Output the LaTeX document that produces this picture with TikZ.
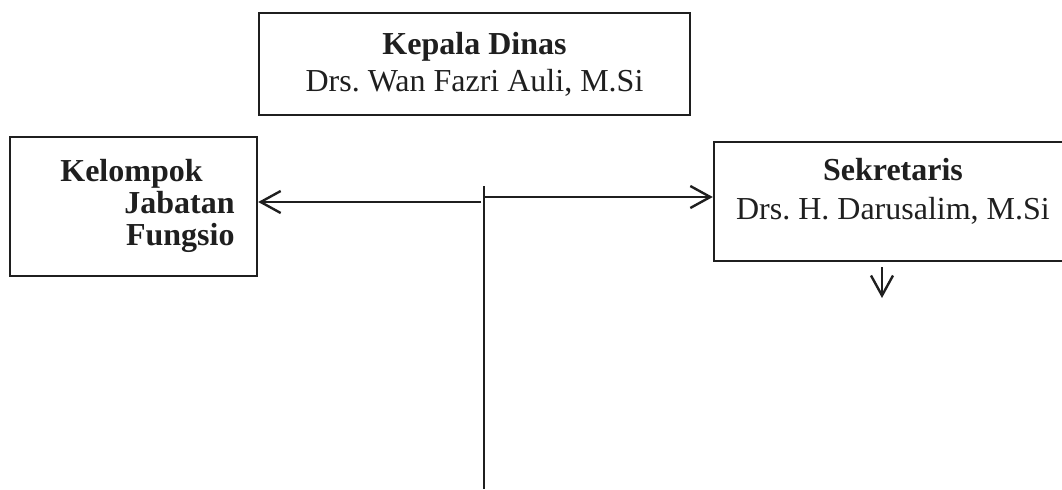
\documentclass[tikz,border=0pt]{standalone}
\usepackage{fontspec}
\setmainfont{Liberation Serif}
\usepackage{tikz}
\usetikzlibrary{arrows.meta}
\frenchspacing
\tikzset{
  % --- kotak bagan -----------------------------------------------------------
  kotak/.style={rectangle,draw=black!88,line width=1.2pt,inner sep=0pt},
  teks/.style={inner sep=0pt,text=black!88},
  % --- garis penghubung -------------------------------------------------------
  garis/.style={draw=black!88,line width=1.2pt},
  panah/.style={garis,-{Straight Barb[length=10pt,width=11pt,line width=1.2pt]}},
}
\begin{document}
\begin{tikzpicture}[x=0.5pt,y=-0.5pt,font=\fontsize{16}{18.5}\selectfont]
  \clip (0,0) rectangle (1062,489);
  \node[kotak,teks,align=center,minimum width=215.5pt,minimum height=51pt] (kepala) at (474.5,64)
    {\textbf{Kepala Dinas}\\Drs. Wan Fazri Auli, M.Si};
  \node[kotak,minimum width=123.5pt,minimum height=69.5pt] (kelompok) at (133.5,206.5) {};
  \node[teks,align=right,anchor=east,font=\fontsize{16}{16}\selectfont] (kelompokT) at (235,206)
    {\textbf{Kelompok}\hspace*{16pt}\\\textbf{Jabatan}\\\textbf{Fungsio}};
  \node[kotak,minimum width=183pt,minimum height=59.5pt] (sekretaris) at (897,201.5) {};
  \node[teks,align=center,font=\fontsize{16}{19.5}\selectfont] (sekretarisT) at (893,191)
    {\textbf{Sekretaris}\\Drs. H. Darusalim, M.Si};
  % batang utama
  \coordinate (atas) at (484,186);
  \coordinate (bawah) at (484,489);
  \draw[garis] (atas) -- (bawah);
  \draw[panah] (481,202) -- (kelompok.east |- 0,202);
  \draw[panah] (484,197) -- (sekretaris.west |- 0,197);
  \coordinate (turunA) at (882,267);
  \coordinate (turunB) at (882,298);
  \draw[panah] (turunA) -- (turunB);
\end{tikzpicture}
\end{document}
